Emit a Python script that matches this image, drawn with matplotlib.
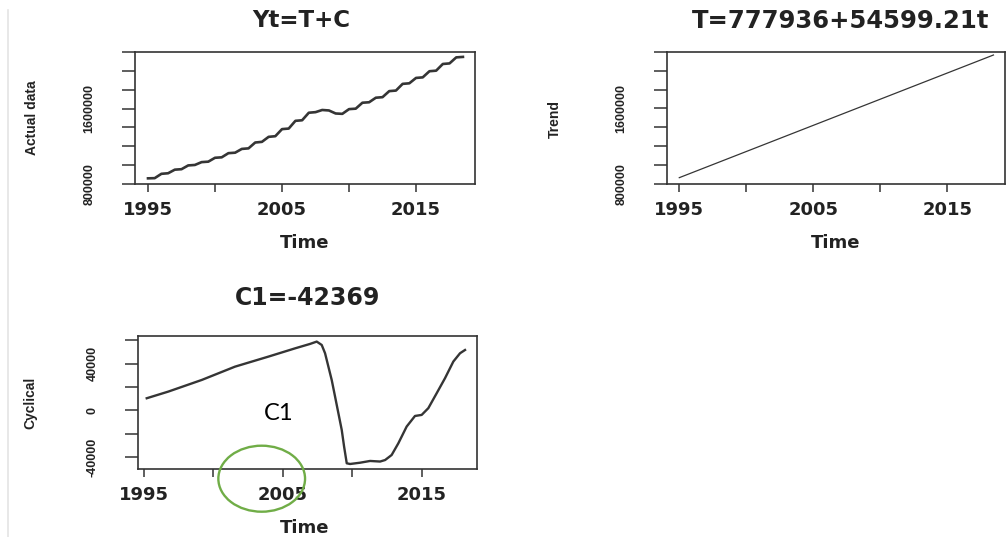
import numpy as np
import matplotlib.pyplot as plt
from matplotlib.patches import Ellipse

# Actual data (Yt), half-yearly readings
actual_time = np.arange(1995, 2019, 0.5)
actual_values = [860000, 862000, 908000, 914000, 952000, 957000, 997000, 1002000,
                 1032000, 1037000, 1078000, 1083000, 1127000, 1132000, 1172000, 1178000,
                 1240000, 1247000, 1300000, 1307000, 1382000, 1388000, 1470000, 1476000,
                 1556000, 1562000, 1585000, 1580000, 1548000, 1544000, 1594000, 1599000,
                 1662000, 1667000, 1715000, 1721000, 1785000, 1791000, 1862000, 1868000,
                 1925000, 1931000, 1996000, 2002000, 2073000, 2079000, 2143000, 2148000]

# Trend line
trend_time = [1995.0, 2018.45]
trend_values = [867000, 2165000]

# Cyclical component
cyc_time = [1995.23, 1996.78, 1999.19, 2001.58, 2003.98, 2005.9, 2006.98, 2007.46,
            2007.82, 2008.06, 2008.30, 2008.54, 2008.78, 2009.02, 2009.26, 2009.43,
            2009.62, 2009.86, 2010.58, 2011.30, 2012.02, 2012.38, 2012.85, 2013.33,
            2013.93, 2014.53, 2015.01, 2015.49, 2016.09, 2016.69, 2017.29, 2017.77,
            2018.13]
cyc_values = [10300, 16000, 26000, 37400, 46000, 53100, 56900, 58900,
              56000, 48900, 37400, 25900, 11700, -2600, -16900, -31200,
              -45500, -46100, -45000, -43500, -44000, -42700, -38400, -28400,
              -14000, -4900, -4000, 1800, 14600, 27500, 41800, 48900,
              51700]

year_ticks = [1995, 2000, 2005, 2010, 2015]
year_labels = ['1995', '', '2005', '', '2015']
level_ticks = [800000, 1000000, 1200000, 1400000, 1600000, 1800000, 2000000, 2200000]
level_labels = ['800000', '', '', '', '1600000', '', '', '']
cyc_ticks = [-40000, -20000, 0, 20000, 40000, 60000]
cyc_labels = ['-40000', '', '0', '', '40000', '']

W, H = 1006, 537
TXT = '#222222'
LINE = '#353535'
rot_font = ['Liberation Sans Narrow', 'Liberation Sans']
wide_font = ['DejaVu Sans']


def rect(l, t, r, b):
    return [l / W, 1 - b / H, (r - l) / W, (b - t) / H]


def style_axes(ax, yticks, ylabels):
    ax.set_xticks(year_ticks)
    ax.set_xticklabels(year_labels, family=wide_font, fontweight='bold', fontsize=13, color=TXT)
    ax.set_yticks(yticks)
    ax.set_yticklabels(ylabels, family=rot_font, fontweight='bold', fontsize=9,
                       color=TXT, rotation=90, va='center')
    ax.tick_params(axis='x', length=5.8, width=1.1, color='#333333', pad=6.7)
    ax.tick_params(axis='y', length=9.4, width=1.1, color='#333333', pad=19)
    for s in ax.spines.values():
        s.set_color('#333333')
        s.set_linewidth(1.2)


fig = plt.figure(figsize=(W / 100, H / 100), dpi=100)

ax1 = fig.add_axes(rect(135, 52, 475, 184))
ax1.plot(actual_time, actual_values, color=LINE, lw=1.9)
ax1.set_xlim(1994.03, 2019.4)
ax1.set_ylim(800000, 2190000)
style_axes(ax1, level_ticks, level_labels)

ax2 = fig.add_axes(rect(666.7, 51.7, 1005.5, 184))
ax2.plot(trend_time, trend_values, color=LINE, lw=0.9)
ax2.set_xlim(1994.06, 2019.35)
ax2.set_ylim(800000, 2200000)
style_axes(ax2, level_ticks, level_labels)

ax3 = fig.add_axes(rect(137.7, 336, 476.7, 469))
ax3.plot(cyc_time, cyc_values, color=LINE, lw=1.7)
ax3.set_xlim(1994.58, 2018.97)
ax3.set_ylim(-50400, 63700)
style_axes(ax3, cyc_ticks, cyc_labels)

# titles and axis labels placed in pixel positions
def ftext(x, y, s, **kw):
    fig.text(x / W, 1 - y / H, s, color=TXT, **kw)

ftext(301, 26.7, 'Yt=T+C', ha='center', va='baseline', family=wide_font, fontweight='bold', fontsize=16.5)
ftext(841, 28.3, 'T=777936+54599.21t', ha='center', va='baseline', family=wide_font, fontweight='bold', fontsize=17.5)
ftext(308, 305, 'C1=-42369', ha='center', va='baseline', family=wide_font, fontweight='bold', fontsize=17)

ftext(305, 248.3, 'Time', ha='center', va='baseline', family=wide_font, fontweight='bold', fontsize=13)
ftext(836, 248.3, 'Time', ha='center', va='baseline', family=wide_font, fontweight='bold', fontsize=13)
ftext(305, 533.3, 'Time', ha='center', va='baseline', family=wide_font, fontweight='bold', fontsize=13)

ftext(32, 118, 'Actual data', ha='center', va='center', rotation=90, family=rot_font, fontweight='bold', fontsize=10)
ftext(555, 119, 'Trend', ha='center', va='center', rotation=90, family=rot_font, fontweight='bold', fontsize=10)
ftext(30, 403, 'Cyclical', ha='center', va='center', rotation=90, family=rot_font, fontweight='bold', fontsize=10)

# overlay for the hand-drawn annotations
ov = fig.add_axes([0, 0, 1, 1])
ov.set_xlim(0, W)
ov.set_ylim(H, 0)
ov.axis('off')
ov.plot([8, 8], [10, H], color='#e4e4e4', lw=1.2)
ov.add_patch(Ellipse((261.7, 478.7), 86.7, 66, fill=False, edgecolor='#70AD47', lw=1.7))
ov.text(279, 420, 'C1', ha='center', va='baseline', family=['Lato', 'DejaVu Sans'],
        fontsize=17, color='black')

fig.savefig('out.png', dpi=100)
